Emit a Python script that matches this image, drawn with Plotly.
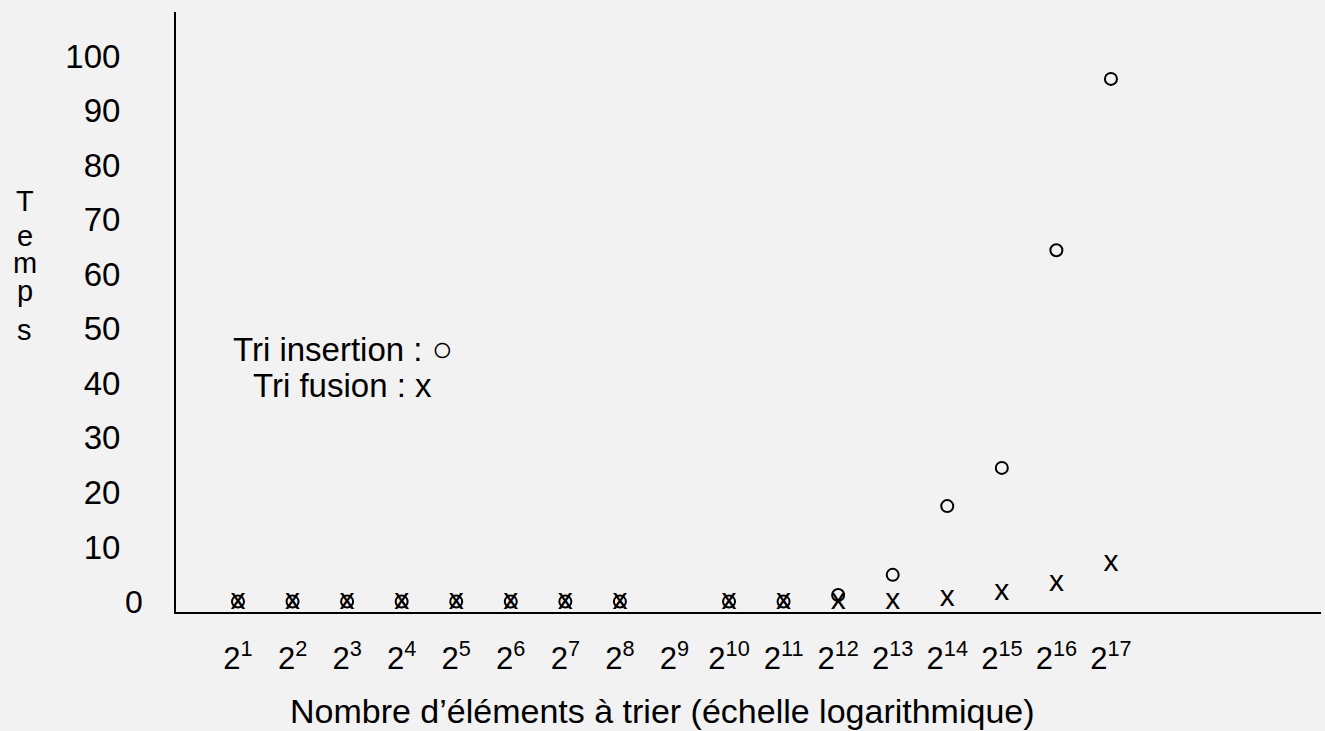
import plotly.graph_objects as go

# ---- data ----
exponents = list(range(1, 18))
tick_labels = [f"2<sup>{e}</sup>" for e in exponents]
insertion = [0, 0, 0, 0, 0, 0, 0, 0, None, 0, 0, 1.2, 4.9, 17.5, 24.5, 64.4, 95.8]
fusion = [0, 0, 0, 0, 0, 0, 0, 0, None, 0, 0, 0, 0.1, 0.5, 1.6, 3.4, 6.9]
y_ticks = [10, 20, 30, 40, 50, 60, 70, 80, 90, 100]
y_tick_labels = [str(v) for v in y_ticks]

FONT = "Liberation Sans, Arial, sans-serif"
BG = "#f2f2f2"

fig = go.Figure()
fig.add_trace(go.Scatter(
    x=exponents, y=insertion, mode="markers", name="Tri insertion",
    marker=dict(symbol="circle-open", size=12, color="black",
                line=dict(width=2, color="black")),
    showlegend=False, cliponaxis=False,
))
fig.add_trace(go.Scatter(
    x=exponents, y=fusion, mode="text", name="Tri fusion",
    text=["x" if v is not None else "" for v in fusion],
    textposition="middle center",
    textfont=dict(family=FONT, size=30, color="black"),
    showlegend=False, cliponaxis=False,
))

L, R, T, B = 176, 4, 12, 119
W, H = 1325, 731

def py(p):
    return 1 - (p - T) / (H - T - B)

def px(p):
    return (p - L) / (W - L - R)

annotations = []
# legend text
annotations.append(dict(xref="paper", yref="paper", x=px(343), y=py(348),
                        text="Tri insertion : <span style='font-size:35px'>○</span>",
                        showarrow=False, xanchor="center", yanchor="middle",
                        font=dict(family=FONT, size=33, color="black")))
annotations.append(dict(xref="paper", yref="paper", x=px(342), y=py(385),
                        text="Tri fusion : x",
                        showarrow=False, xanchor="center", yanchor="middle",
                        font=dict(family=FONT, size=33, color="black")))
# vertical stacked y title
for ch, cy in zip("Temps", [201, 236, 263, 291, 330]):
    annotations.append(dict(xref="paper", yref="paper", x=px(25), y=py(cy),
                            text=ch, showarrow=False, xanchor="center",
                            yanchor="middle",
                            font=dict(family=FONT, size=29, color="black")))
# the "0" tick label sits further right in the reference
annotations.append(dict(xref="paper", yref="y", x=0, y=0, text="0",
                        showarrow=False, xanchor="right", yanchor="middle",
                        xshift=-31,
                        font=dict(family=FONT, size=32, color="black")))
# x axis title
annotations.append(dict(xref="paper", yref="paper", x=px(662), y=py(711),
                        text="Nombre d’éléments à trier (échelle logarithmique)",
                        showarrow=False, xanchor="center", yanchor="middle",
                        font=dict(family=FONT, size=34, color="black")))

fig.update_layout(
    width=W, height=H,
    margin=dict(l=L, r=R, t=T, b=B, pad=0),
    paper_bgcolor=BG, plot_bgcolor=BG,
    font=dict(family=FONT, color="black"),
    showlegend=False,
    annotations=annotations,
    xaxis=dict(
        range=[-0.136, 20.85],
        tickmode="array", tickvals=exponents, ticktext=tick_labels,
        tickfont=dict(family=FONT, size=31, color="black"),
        ticks="", ticklabelstandoff=18,
        showline=True, linecolor="black", linewidth=2,
        showgrid=False, zeroline=False,
    ),
    yaxis=dict(
        range=[-1.91, 108.06],
        tickmode="array", tickvals=y_ticks, ticktext=y_tick_labels,
        tickfont=dict(family=FONT, size=33, color="black"),
        ticks="", ticklabelstandoff=47,
        showline=True, linecolor="black", linewidth=2,
        showgrid=False, zeroline=False,
    ),
)

fig.write_html("out.html", config={"displayModeBar": False},
               post_script="document.body.style.margin='0';")
